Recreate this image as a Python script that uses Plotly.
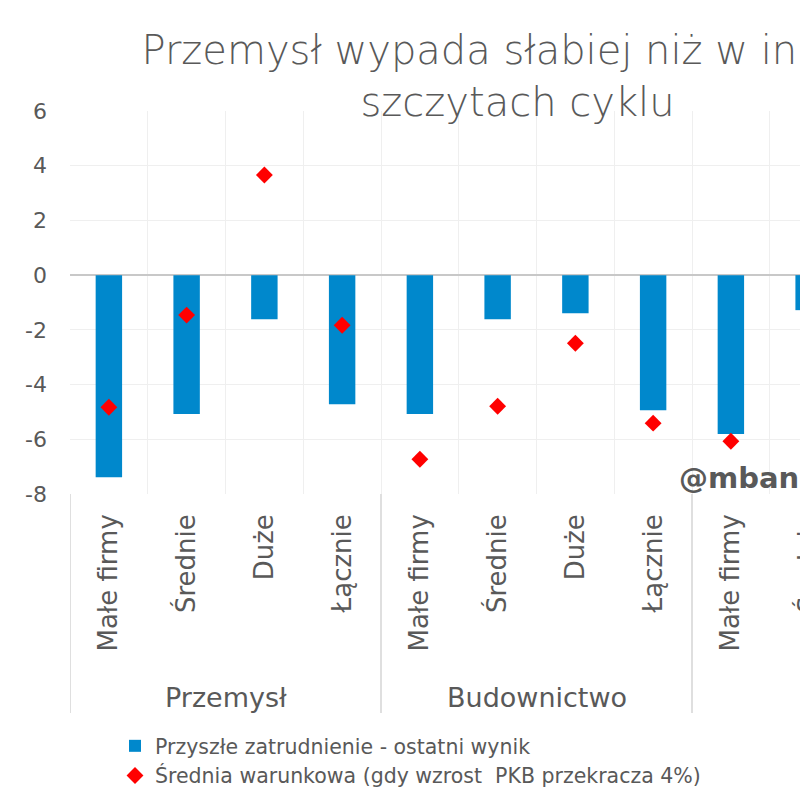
import plotly.graph_objects as go

# ---- data ----
groups = ["Przemysł", "Budownictwo", "Handel"]
sizes = ["Małe firmy", "Średnie", "Duże", "Łącznie"]
employment_latest = [-7.39, -5.08, -1.61, -4.72,
                     -5.08, -1.61, -1.39, -4.94,
                     -5.81, -1.28, -2.40, -3.60]
conditional_avg = [-4.83, -1.46, 3.66, -1.83,
                   -6.73, -4.79, -2.49, -5.41,
                   -6.07, -2.10, 1.20, -3.10]
y_tickvals = [-8, -6, -4, -2, 0, 2, 4, 6]
y_ticktext = ["-8", "-6", "-4", "-2", "0", "2", "4", "6"]
series_names = ["Przyszłe zatrudnienie - ostatni wynik",
                "Średnia warunkowa (gdy wzrost  PKB przekracza 4%)"]
title_text = "Przemysł wypada słabiej niż w innych<br>szczytach cyklu"
watermark = "@mbank_research"

# ---- styling ----
W, H = 1035, 800
ML, MR, MT, MB = 70, 32, 111, 306
TXT = "#595959"
FONT = "DejaVu Sans"
BLUE = "#0088cc"
RED = "#ff0000"

n_cat = len(groups) * len(sizes)
xpos = list(range(n_cat))
cat_labels = [s for g in groups for s in sizes]
plot_h = H - MT - MB

fig = go.Figure()
fig.add_trace(go.Bar(x=xpos, y=employment_latest, name=series_names[0],
                     marker=dict(color=BLUE, line=dict(width=0)), width=0.34))
fig.add_trace(go.Scatter(x=xpos, y=conditional_avg, name=series_names[1], mode="markers",
                         marker=dict(symbol="diamond", size=13, color=RED, line=dict(width=0))))

# group dividers below the axis
n_s = len(sizes)
div_depth = (713 - (H - MB)) / plot_h
for gi in range(len(groups) + 1):
    xb = gi * n_s - 0.5
    fig.add_shape(type="line", xref="x", yref="paper", x0=xb, x1=xb, y0=0, y1=-div_depth,
                  line=dict(color="#d4d4d4", width=1.5))
# group labels
for gi, g in enumerate(groups):
    fig.add_annotation(xref="x", yref="paper", x=gi * n_s + (n_s - 1) / 2,
                       y=-(697 - (H - MB)) / plot_h, text=g, showarrow=False,
                       xanchor="center", yanchor="middle",
                       font=dict(family=FONT, size=27, color=TXT))

fig.add_annotation(xref="paper", yref="paper", x=(677 - ML) / (W - ML - MR),
                   y=(H - MB - 478) / plot_h, text=watermark, showarrow=False,
                   xanchor="left", yanchor="middle",
                   font=dict(family=FONT, size=29, color=TXT, weight="bold"))

fig.update_layout(
    width=W, height=H,
    margin=dict(l=ML, r=MR, t=MT, b=MB, pad=0, autoexpand=False),
    paper_bgcolor="white", plot_bgcolor="white",
    title=dict(text=title_text, x=0.5, xref="container", xanchor="center",
               y=1 - 64 / H, yref="container", yanchor="top",
               font=dict(family=FONT, size=40, color=TXT, weight=200)),
    bargap=0.66,
    showlegend=True,
    legend=dict(orientation="v", xref="container", yref="container",
                x=115 / W, xanchor="left", y=1 - 726 / H, yanchor="top",
                font=dict(family=FONT, size=20.5, color=TXT),
                bgcolor="rgba(0,0,0,0)", itemclick=False),
    xaxis=dict(range=[-0.5, n_cat - 0.5], tickmode="array", tickvals=xpos, ticktext=cat_labels,
               tickangle=-90, tickfont=dict(family=FONT, size=26, color=TXT),
               showgrid=False, zeroline=False, showline=False, ticks="",
               ticklabelstandoff=14, automargin=False,
               minor=dict(tickmode="array", tickvals=[i - 0.5 for i in range(n_cat + 1)],
                          showgrid=True, gridcolor="#efefef", gridwidth=1, ticks="")),
    yaxis=dict(range=[-8, 6], tickmode="array", tickvals=y_tickvals, ticktext=y_ticktext,
               showgrid=True, gridcolor="#efefef",
               zeroline=True, zerolinecolor="#c8c8c8", zerolinewidth=2,
               showline=False, ticks="", ticklabelstandoff=22, automargin=False,
               tickfont=dict(family=FONT, size=22, color=TXT)),
)

fig.write_html("out.html",
               post_script="document.documentElement.style.overflow='hidden';document.body.style.overflow='hidden';")
